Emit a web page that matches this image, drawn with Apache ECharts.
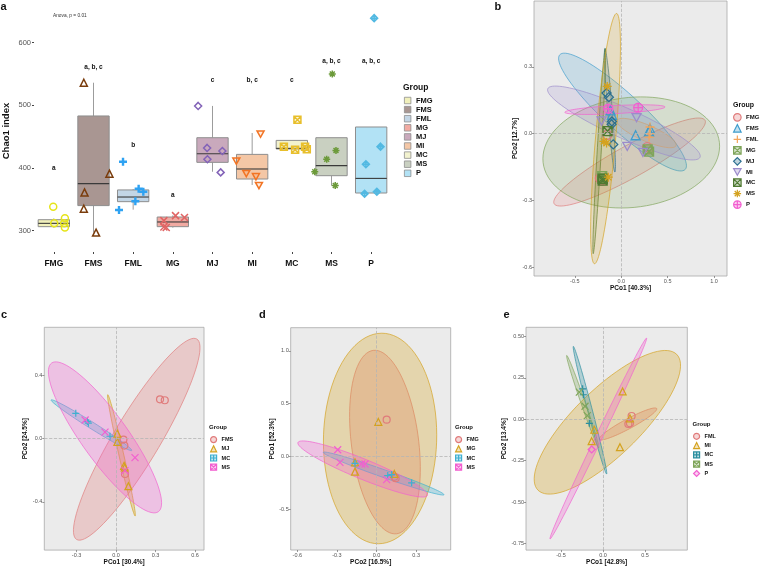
<!DOCTYPE html>
<html><head><meta charset="utf-8">
<script src="https://cdn.jsdelivr.net/npm/echarts@6/dist/echarts.min.js"></script>
<style>html,body{margin:0;padding:0;background:#fff}#c{width:760px;height:567px}</style>
</head><body><div id="c"></div>
<script>
const FONT = "'Liberation Sans', Arial, Helvetica, sans-serif";

// ---------- Panel a: Chao1 boxplot ----------
const aGroups = ['FMG','FMS','FML','MG','MJ','MI','MC','MS','P'];
const aBoxStats = [ // [low, q1, median, q3, high]
  [305,306.4,311.7,317.5,319.6],
  [297,340,375,483,536],
  [333.5,346.3,353.7,365,366.5],
  [304.8,306.4,313.9,321.8,324.4],
  [394,409,422.8,448.3,499],
  [372.9,382.4,398.4,421.7,455.8],
  [430.3,430.3,431.3,444,444],
  [371.8,387.7,403.7,448.3,448.3],
  [360.1,360.1,383.4,465.4,465.4]
];
const aPoints = [ // [jittered x position, Chao1]
  [[-0.015,338],[0.010,312],[0.279,320],[0.261,312],[0.279,305]],
  [[0.756,536],[1.402,391],[0.774,361],[0.756,335],[1.065,297]],
  [[1.744,410],[2.138,367],[2.256,362],[2.055,347],[1.643,333]],
  [[3.068,324],[3.294,321],[2.774,316],[2.774,306],[2.834,305]],
  [[3.638,499],[3.864,432],[4.249,427],[3.872,414],[4.206,393]],
  [[5.211,454],[4.601,411],[4.852,391],[5.095,386],[5.171,372]],
  [[6.141,477],[5.799,434],[6.083,429],[6.334,434],[6.377,430]],
  [[7.020,550],[7.113,428],[6.879,414],[6.578,394],[7.095,372]],
  [[8.075,639],[8.236,434],[7.867,406],[7.834,359],[8.143,362]]
];
const aSigPos = [400,560,437,357,540,540,540,570,570];
const aSigText = ['a','a, b, c','b','a','c','b, c','c','a, b, c','a, b, c'];
const aYTicks = [300,400,500,600];
const aBoxFill = ['#f1f0bb','#a99692','#c3d6e6','#f1aaa2','#c9a9bc','#f4c7a6','#f2f2cf','#c9d0c1','#b2e2f5'];
const aPtColor = ['#e6e41a','#7a3c0c','#2ea2f2','#e06464','#8363b8','#f27424','#e8bf2c','#6c9a3a','#52b9e2'];

// ---------- Panel b: PCoA all groups ----------
const bGroups = ['FMG','FMS','FML','MG','MJ','MI','MC','MS','P'];
const bColors = ['#e07b7b','#3d9ccc','#f5a55a','#7fa55a','#2b6f8f','#9b8bcb','#4f7a32','#d4a21f','#f25fd0'];
const bPoints = [
  [[-0.23,-0.20],[0.28,-0.06],[-0.15,-0.005],[0.29,-0.07],[-0.21,-0.21]],
  [[-0.115,0.105],[-0.10,0.085],[0.155,-0.007],[0.31,0.022],[0.30,0.01]],
  [[0.31,0.03],[0.30,-0.015],[0.31,0.0]],
  [[-0.205,-0.19],[0.30,-0.08],[-0.20,-0.20],[0.285,-0.07]],
  [[-0.158,0.182],[-0.133,0.164],[-0.104,0.042],[-0.086,-0.048],[-0.10,0.055]],
  [[-0.212,0.057],[0.165,0.072],[0.065,-0.057],[0.234,-0.084]],
  [[-0.201,-0.202],[-0.147,0.012],[-0.20,-0.21]],
  [[-0.151,0.212],[-0.187,-0.034],[-0.158,-0.042],[-0.14,-0.195]],
  [[-0.14,0.112],[0.183,0.117]]
];
const bEllipses = [ // [cx, cy, majorX, majorY, minorX, minorY]
  [0.090,-0.127,0.813,0.187,0.083,-0.063],
  [0.014,0.097,0.676,-0.257,0.133,0.061],
  [0.273,0.003,0.317,-0.057,-0.036,-0.033],
  [0.108,-0.084,0.950,0.045,0.065,-0.245],
  [-0.122,0.105,0.054,-0.277,0.025,0.001],
  [0.029,0.048,0.820,-0.154,0.067,0.061],
  [-0.237,-0.078,0.065,0.460,0.022,0],
  [-0.169,-0.022,0.119,0.561,0.108,-0.004],
  [-0.068,0.108,0.540,0.012,0.004,-0.018]
];
const bXTicks = [-0.5,0,0.5,1.0];
const bYTicks = [-0.6,-0.3,0,0.3];

// ---------- Panel c ----------
const cGroups = ['FMS','MJ','MC','MS'];
const cColors = ['#e07b7b','#d4a21f','#3fb0d0','#f25fd0'];
const cPoints = [
  [[0.334,0.249],[0.370,0.243],[0.056,-0.006],[0.063,-0.044],[0.068,-0.224]],
  [[0.010,0.031],[0.010,-0.021],[0.061,-0.172],[0.066,-0.183],[0.094,-0.301]],
  [[-0.306,0.160],[-0.218,0.108],[-0.210,0.098],[-0.046,0.015]],
  [[-0.235,0.118],[-0.084,0.041],[0.068,-0.203],[0.144,-0.120]]
];
const cEllipses = [
  [0.157,-0.004,0.456,0.635,0.152,-0.073],
  [0.041,-0.106,0.104,-0.384,0.018,0.003],
  [-0.187,0.085,0.306,-0.160,0.0137,0.0174],
  [-0.084,0.008,0.405,-0.471,0.144,0.083]
];
const cXTicks = [-0.3,0,0.3,0.6];
const cYTicks = [-0.4,0,0.4];

// ---------- Panel d ----------
const dGroups = ['FMG','MG','MC','MS'];
const dColors = ['#e07b7b','#d4a21f','#3fb0d0','#f25fd0'];
const dPoints = [
  [[0.077,0.35],[0.145,-0.203],[0.135,-0.19]],
  [[0.014,0.328],[-0.163,-0.053],[-0.163,-0.141],[0.135,-0.163]],
  [[-0.163,-0.063],[0.085,-0.178],[0.115,-0.169],[0.266,-0.247]],
  [[-0.294,0.066],[-0.277,-0.053],[-0.112,-0.069],[-0.087,-0.069],[0.077,-0.216]]
];
const dEllipses = [
  [0.064,0.138,-0.088,0.866,0.253,0.038],
  [0.027,0.172,0.013,0.994,0.429,0],
  [0.054,-0.159,0.457,-0.200,-0.010,-0.034],
  [-0.105,-0.116,0.490,-0.250,-0.028,-0.0875]
];
const dXTicks = [-0.6,-0.3,0,0.3];
const dYTicks = [-0.5,0,0.5,1.0];

// ---------- Panel e ----------
const eGroups = ['FML','MI','MC','MS','P'];
const eColors = ['#e07b7b','#d4a21f','#2b8fa0','#7fa55a','#f25fd0'];
const ePoints = [
  [[0.341,0.02],[0.321,-0.024],[0.302,-0.028]],
  [[0.234,0.168],[0.321,0.006],[-0.103,-0.063],[-0.135,-0.132],[0.202,-0.168]],
  [[-0.242,0.184],[-0.234,0.148],[-0.163,-0.024]],
  [[-0.282,0.164],[-0.214,0.079],[-0.187,0.022]],
  [[-0.135,-0.182]]
];
const eEllipses = [
  [0.298,-0.028,0.341,0.093,0.028,-0.026],
  [0.052,-0.018,0.825,0.410,0.281,-0.140],
  [-0.155,0.055,0.198,-0.385,0.027,0.003],
  [-0.242,0.107,0.190,-0.278,0.024,0.004],
  [-0.056,-0.116,0.575,0.606,0.036,-0.008]
];
const eXTicks = [-0.5,0,0.5];
const eYTicks = [-0.75,-0.5,-0.25,0,0.25,0.5];

// ---------- symbols ----------
const SYM = {
  circle:'circle', triangle:'triangle', diamond:'diamond',
  invTri:'path://M0,0L10,0L5,9Z',
  plus:'path://M5,0L5,10M0,5L10,5',
  cross:'path://M0,0L10,10M10,0L0,10',
  sqX:'path://M0,0L10,0L10,10L0,10ZM0,0L10,10M10,0L0,10',
  sqPlus:'path://M0,0L10,0L10,10L0,10ZM5,0L5,10M0,5L10,5',
  star:'path://M5,0L5,10M0,5L10,5M1.5,1.5L8.5,8.5M8.5,1.5L1.5,8.5',
  circPlus:'path://M0,5A5,5,0,1,1,10,5A5,5,0,1,1,0,5ZM5,0L5,10M0,5L10,5',
  diaPlus:'path://M5,0L10,5L5,10L0,5ZM5,0L5,10M0,5L10,5'
};
const aSym = ['circle','triangle','plus','cross','diamond','invTri','sqX','star','diaPlus'];
const bSym = ['circle','triangle','plus','sqX','diamond','invTri','sqX','star','circPlus'];
const cSym = ['circle','triangle','plus','cross'];
const dSym = ['circle','triangle','plus','cross'];
const eSym = ['circle','triangle','plus','cross','diamond'];
const cLegSym = ['circle','triangle','sqPlus','sqX'];
const dLegSym = ['circle','triangle','sqPlus','sqX'];
const eLegSym = ['circle','triangle','sqPlus','sqX','diamond'];

function hexA(h,a){const n=parseInt(h.slice(1),16);return `rgba(${(n>>16)&255},${(n>>8)&255},${n&255},${a})`;}
function fillFor(sym,col){return SYM[sym].indexOf('path://')===0 ? hexA(col,0.12) : 'none';}

const grids = [
  {left:33, top:10, width:358, height:242},
  {left:534, top:1, width:193, height:275, show:true, backgroundColor:'#ebebeb', borderColor:'#a8a8a8', borderWidth:0.8},
  {left:44.3, top:327.3, width:159.7, height:227, show:true, backgroundColor:'#ebebeb', borderColor:'#a8a8a8', borderWidth:0.8},
  {left:290.7, top:327.7, width:160, height:224, show:true, backgroundColor:'#ebebeb', borderColor:'#a8a8a8', borderWidth:0.8},
  {left:526, top:327.3, width:161.3, height:227, show:true, backgroundColor:'#ebebeb', borderColor:'#a8a8a8', borderWidth:0.8}
];

function pcoAxis(gi, min, max, ticks, dec, name, gap){
  return {gridIndex:gi, type:'value', min:min, max:max,
    axisLine:{show:false, onZero:false}, splitLine:{show:false},
    axisTick:{show:true, customValues:ticks, length:2, lineStyle:{color:'#555', width:0.6}},
    axisLabel:{customValues:ticks, formatter:v=>Number(v).toFixed(dec), fontSize:5.5, color:'#555', margin:2, fontFamily:FONT},
    name:name, nameLocation:'middle', nameGap:gap,
    nameTextStyle:{fontSize:6.5, fontWeight:'bold', color:'#111', fontFamily:FONT}};
}

const xAxes = [
  {gridIndex:0, type:'category', data:aGroups, axisLine:{show:false, onZero:false},
   axisTick:{show:true, alignWithLabel:true, length:2, lineStyle:{color:'#444'}},
   axisLabel:{fontSize:8.5, fontWeight:'bold', color:'#111', margin:7, fontFamily:FONT}},
  {gridIndex:0, type:'value', min:-0.5, max:8.5, show:false, axisLine:{onZero:false}},
  pcoAxis(1,-0.94,1.14,bXTicks,1,'PCo1 [40.3%]',9),
  pcoAxis(2,-0.545,0.668,cXTicks,1,'PCo1 [30.4%]',8),
  pcoAxis(3,-0.65,0.562,dXTicks,1,'PCo2 [16.5%]',9),
  pcoAxis(4,-0.917,1.004,eXTicks,1,'PCo1 [42.8%]',8)
];
const yAxes = [
  {gridIndex:0, type:'value', min:266, max:652, axisLine:{show:false, onZero:false}, splitLine:{show:false},
   axisTick:{show:true, customValues:aYTicks, length:2, lineStyle:{color:'#444'}},
   axisLabel:{customValues:aYTicks, fontSize:7.5, color:'#555', margin:3, fontFamily:FONT},
   name:'Chao1 index', nameLocation:'middle', nameGap:23,
   nameTextStyle:{fontSize:9.5, fontWeight:'bold', color:'#111', fontFamily:FONT}},
  pcoAxis(1,-0.638,0.595,bYTicks,1,'PCo2 [12.7%]',13),
  pcoAxis(2,-0.706,0.705,cYTicks,1,'PCo2 [24.5%]',13),
  pcoAxis(3,-0.881,1.218,dYTicks,1,'PCo1 [52.3%]',12),
  pcoAxis(4,-0.789,0.555,eYTicks,2,'PCo2 [13.4%]',14)
];

const series = [];
// boxes
series.push({type:'custom', name:'boxes', xAxisIndex:1, yAxisIndex:0, silent:true,
  data: aBoxStats.map((s,i)=>[i].concat(s)),
  encode:{x:0, y:[1,2,3,4,5]},
  renderItem:function(params, api){
    const x=api.value(0), i=params.dataIndex;
    const w=api.size([0.79,0])[0];
    const lo=api.coord([x,api.value(1)]), q1=api.coord([x,api.value(2)]), md=api.coord([x,api.value(3)]),
          q3=api.coord([x,api.value(4)]), hi=api.coord([x,api.value(5)]);
    const ws={stroke:'#9c9c9c', lineWidth:1};
    return {type:'group', children:[
      {type:'line', shape:{x1:lo[0],y1:lo[1],x2:q1[0],y2:q1[1]}, style:ws},
      {type:'line', shape:{x1:q3[0],y1:q3[1],x2:hi[0],y2:hi[1]}, style:ws},
      {type:'rect', shape:{x:q3[0]-w/2,y:q3[1],width:w,height:q1[1]-q3[1]}, style:{fill:aBoxFill[i], stroke:'#8e8e8e', lineWidth:1}},
      {type:'line', shape:{x1:md[0]-w/2,y1:md[1],x2:md[0]+w/2,y2:md[1]}, style:{stroke:'#3a3a3a', lineWidth:1.1}}
    ]};
  }});
// points a
aGroups.forEach((g,i)=>{
  series.push({type:'scatter', name:'a:'+g, xAxisIndex:1, yAxisIndex:0, data:aPoints[i],
    symbol:SYM[aSym[i]], symbolSize:(aSym[i]==='plus'?8:7), symbolKeepAspect:true, z:3,
    itemStyle:{color:fillFor(aSym[i],aPtColor[i]), borderColor:aPtColor[i], borderWidth:(aSym[i]==='plus'?2.4:1.5), opacity:1}});
});
// significance letters
series.push({type:'custom', name:'sig', xAxisIndex:1, yAxisIndex:0, silent:true,
  data: aSigPos.map((v,i)=>[i,v]), encode:{x:0,y:1},
  renderItem:function(params, api){
    const p=api.coord([api.value(0),api.value(1)]);
    return {type:'text', x:p[0], y:p[1], style:{text:aSigText[params.dataIndex], fill:'#111',
      fontSize:6.5, fontWeight:'bold', fontFamily:FONT, align:'center', verticalAlign:'middle'}};
  }});

function ellipseSeries(axisIdx, ell, colors, alpha){
  return {type:'custom', xAxisIndex:axisIdx, yAxisIndex:axisIdx-1, silent:true, clip:true,
    data: ell.map((e,i)=>e.concat([i])), encode:{x:0,y:1},
    renderItem:function(params, api){
      const cx=api.value(0), cy=api.value(1), ax=api.value(2), ay=api.value(3), bx=api.value(4), by=api.value(5), g=api.value(6);
      const pts=[];
      for(let k=0;k<90;k++){const t=k/90*2*Math.PI;
        pts.push(api.coord([cx+ax*Math.cos(t)+bx*Math.sin(t), cy+ay*Math.cos(t)+by*Math.sin(t)]));}
      return {type:'polygon', shape:{points:pts}, style:{fill:hexA(colors[g],alpha), stroke:hexA(colors[g],0.85), lineWidth:0.8}};
    }};
}
function pointSeries(prefix, axisIdx, groups, pts, colors, syms, size, bw){
  groups.forEach((g,i)=>{
    const s={type:'scatter', name:prefix+':'+g, xAxisIndex:axisIdx, yAxisIndex:axisIdx-1, data:pts[i],
      symbol:SYM[syms[i]], symbolSize:size, symbolKeepAspect:true, z:3,
      itemStyle:{color:fillFor(syms[i],colors[i]), borderColor:colors[i], borderWidth:bw, opacity:1}};
    if(i===0){s.markLine={silent:true, symbol:'none', label:{show:false}, animation:false,
      lineStyle:{type:'dashed', color:'#b5b5b5', width:0.8}, data:[{xAxis:0},{yAxis:0}]};}
    series.push(s);
  });
}
series.push(ellipseSeries(2,bEllipses,bColors,0.2));
pointSeries('b',2,bGroups,bPoints,bColors,bSym,9,1.3);
series.push(ellipseSeries(3,cEllipses,cColors,0.3));
pointSeries('c',3,cGroups,cPoints,cColors,cSym,7,1.2);
series.push(ellipseSeries(4,dEllipses,dColors,0.3));
pointSeries('d',4,dGroups,dPoints,dColors,dSym,7,1.2);
series.push(ellipseSeries(5,eEllipses,eColors,0.3));
pointSeries('e',5,eGroups,ePoints,eColors,eSym,7,1.2);

function legendFor(prefix, groups, colors, syms, left, top, size, gap, fs, boxFill){
  return {orient:'vertical', left:left, top:top, padding:0, selectedMode:false,
    itemWidth:size, itemHeight:size, itemGap:gap,
    formatter:n=>n.slice(2),
    textStyle:{fontSize:fs, fontWeight:'bold', color:'#111', fontFamily:FONT},
    data: groups.map((g,i)=>boxFill ?
      {name:prefix+':'+g, icon:'rect', itemStyle:{color:boxFill[i], borderColor:'#8e8e8e', borderWidth:0.8}} :
      {name:prefix+':'+g, icon:SYM[syms[i]], itemStyle:{color:hexA(colors[i],0.3), borderColor:colors[i], borderWidth:1.2}})};
}
const legends = [
  legendFor('a',aGroups,null,null,404,96.5,6.5,1.1,7.5,aBoxFill),
  legendFor('b',bGroups,bColors,bSym,733,113,7.5,2.3,6,null),
  legendFor('c',cGroups,cColors,cLegSym,210,436,6,2,5.5,null),
  legendFor('d',dGroups,dColors,dLegSym,455,436,6,2,5.5,null),
  legendFor('e',eGroups,eColors,eLegSym,693,432.7,6,2.1,5.5,null)
];

function t(text,left,top,fs,bold,color){
  return {text:text, left:left, top:top, padding:0,
    textStyle:{fontSize:fs, fontWeight:bold?'bold':'normal', color:color||'#111', fontFamily:FONT}};
}
const titles = [
  t('a',0.5,1,11,true), t('b',494.5,1,11,true), t('c',1,309.5,11,true), t('d',259,309.5,11,true), t('e',503.5,309.5,11,true),
  t('Anova, p = 0.01',53,13.5,4.8,false,'#333'),
  t('Group',403,83,8.5,true), t('Group',733,102,7,true),
  t('Group',209,424,6,true), t('Group',455,424,6,true), t('Group',692.5,421.5,6,true)
];

const chart = echarts.init(document.getElementById('c'), null, {renderer:'canvas'});
chart.setOption({animation:false, backgroundColor:'#fff', textStyle:{fontFamily:FONT},
  title:titles, legend:legends, grid:grids, xAxis:xAxes, yAxis:yAxes, series:series});
</script></body></html>
